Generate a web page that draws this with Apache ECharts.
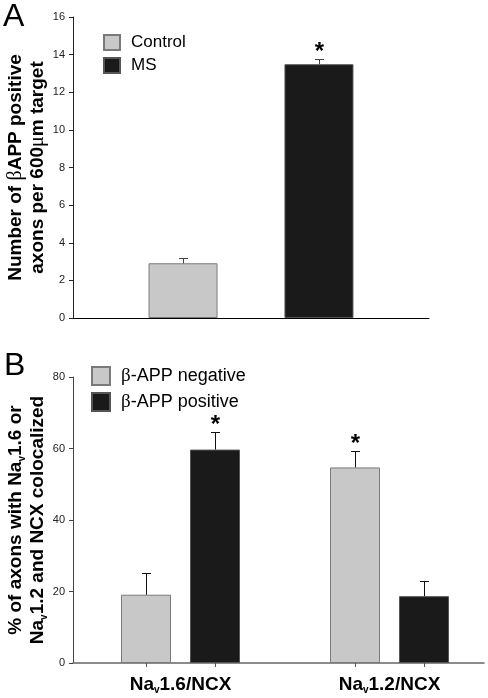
<!DOCTYPE html>
<html><head><meta charset="utf-8">
<script src="https://cdn.jsdelivr.net/npm/echarts@6/dist/echarts.min.js"></script>
<style>html,body{margin:0;padding:0;background:#fff}#c{width:488px;height:698px}</style>
</head><body><div id="c"></div>
<script>
// Panel A data
const catsA = [''];
const namesA = ['Control', 'MS'];
const meanA = [2.91, 13.49];
const semA = [0.27, 0.28];
const sigA = [0, 1];
const ticksA = [0, 2, 4, 6, 8, 10, 12, 14, 16];
// Panel B data
const catsB = ['Na{v|v}1.6/NCX', 'Na{v|v}1.2/NCX'];
const namesB = ['β-APP negative', 'β-APP positive'];
const negMean = [19.1, 54.7];
const negSem = [6.1, 4.7];
const negSig = [0, 1];
const posMean = [59.7, 18.7];
const posSem = [4.9, 4.2];
const posSig = [1, 0];
const ticksB = [0, 20, 40, 60, 80];

const FONT = 'Liberation Sans, Arial, sans-serif';
const SERIF = 'Liberation Serif, DejaVu Serif, serif';
const LIGHT = '#c8c8c8', DARK = '#1a1a1a';

function errSeries(xi, yi, data, bw, gap, n, color, ticks) {
  return {
    type: 'custom', xAxisIndex: xi, yAxisIndex: yi, data: data, silent: true, z: 5, clip: false,
    renderItem: function (params, api) {
      const c = api.value(0), i = api.value(1), m = api.value(2), s = api.value(3), sig = api.value(4);
      const base = api.coord([c, 0]);
      const total = n * bw + (n - 1) * gap;
      const x = Math.round(base[0] - total / 2 + i * (bw + gap) + bw / 2) + 0.5;
      const yM = api.coord([c, m])[1];
      const yT = Math.round(api.coord([c, m + s])[1]) + 0.5;
      const st = { stroke: color, lineWidth: 1 };
      const ch = [
        { type: 'line', shape: { x1: x, y1: yM, x2: x, y2: yT }, style: st },
        { type: 'line', shape: { x1: x - 4.5, y1: yT, x2: x + 4.5, y2: yT }, style: st }
      ];
      if (sig) ch.push({ type: 'text', x: x, y: yT - 7, style: { text: '*', font: 'bold 24px ' + FONT, fill: '#000', align: 'center', verticalAlign: 'middle' } });
      if (ticks) ch.push({ type: 'line', shape: { x1: x, y1: base[1], x2: x, y2: base[1] + 4 }, style: { stroke: '#555', lineWidth: 1 } });
      return { type: 'group', children: ch };
    }
  };
}

const errA = meanA.map((m, i) => [0, i, m, semA[i], sigA[i]]);
const errB = [];
for (let c = 0; c < 2; c++) {
  errB.push([c, 0, negMean[c], negSem[c], negSig[c]]);
  errB.push([c, 1, posMean[c], posSem[c], posSig[c]]);
}

const subRich = {
  b: { fontSize: 19, fontWeight: 'bold', fontFamily: FONT, color: '#000', lineHeight: 22 },
  s: { fontSize: 20, fontFamily: SERIF, color: '#000', lineHeight: 22 },
  v: { fontSize: 10, fontWeight: 'bold', fontFamily: FONT, color: '#000', lineHeight: 18, verticalAlign: 'bottom' }
};

const gridBase = { containLabel: false, outerBoundsMode: 'none' };

const chart = echarts.init(document.getElementById('c'), null, { renderer: 'canvas' });
chart.setOption({
  animation: false,
  backgroundColor: '#fff',
  graphic: [
    { type: 'text', left: 3, top: 1, style: { text: 'A', font: '32px ' + FONT, fill: '#000' } },
    { type: 'text', left: 4, top: 350, style: { text: 'B', font: '32px ' + FONT, fill: '#000' } }
  ],
  legend: [
    { data: namesA, orient: 'vertical', left: 103, top: 34, padding: 0, icon: 'rect', itemWidth: 16, itemHeight: 15, itemGap: 6,
      textStyle: { fontSize: 17, fontFamily: FONT, color: '#000', padding: [0, 0, 0, 6] } },
    { data: namesB, orient: 'vertical', left: 91, top: 366, padding: 0, icon: 'rect', itemWidth: 18, itemHeight: 18, itemGap: 6,
      formatter: n => n.replace('β', '{s|β}'),
      textStyle: { fontSize: 18, fontFamily: FONT, color: '#000', padding: [0, 0, 0, 6],
        rich: { s: { fontSize: 19, fontFamily: SERIF, color: '#000' } } } }
  ],
  grid: [
    Object.assign({ left: 73, right: 59, top: 17, bottom: 380 }, gridBase),
    Object.assign({ left: 73, right: 4, top: 377, bottom: 35 }, gridBase),
    Object.assign({ left: 76, right: -6, top: 377, bottom: 35 }, gridBase)
  ],
  xAxis: [
    { type: 'category', gridIndex: 0, data: catsA, axisLine: { lineStyle: { color: '#000', width: 1 } }, axisTick: { show: false }, axisLabel: { show: false } },
    { type: 'category', gridIndex: 1, data: catsB, axisLine: { lineStyle: { color: '#666', width: 1.5 } }, axisTick: { show: false }, axisLabel: { show: false } },
    { type: 'category', gridIndex: 2, data: catsB, axisLine: { show: false }, axisTick: { show: false },
      axisLabel: { margin: 12, fontSize: 19, fontWeight: 'bold', fontFamily: FONT, color: '#000',
        rich: { v: { fontSize: 10, fontWeight: 'bold', fontFamily: FONT, color: '#000', lineHeight: 20, verticalAlign: 'bottom' } } } }
  ],
  yAxis: [
    { type: 'value', gridIndex: 0, min: 0, max: 16, interval: 2, splitLine: { show: false },
      axisLine: { show: true, lineStyle: { color: '#222' } }, axisTick: { show: true, length: 4, lineStyle: { color: '#222' } },
      axisLabel: { margin: 8, fontSize: 11, fontFamily: FONT, color: '#222' },
      name: '{b|Number of }{s|β}{b|APP positive}\n{b|axons per 600}{s|μ}{b|m target}',
      nameMoveOverlap: false,
      nameLocation: 'middle', nameRotate: 90, nameGap: 24, nameTextStyle: { rich: subRich } },
    { type: 'value', gridIndex: 1, min: 0, max: 80, interval: 20, splitLine: { show: false },
      axisLine: { show: true, lineStyle: { color: '#444' } }, axisTick: { show: true, length: 4, lineStyle: { color: '#444' } },
      axisLabel: { margin: 8, fontSize: 11, fontFamily: FONT, color: '#222' },
      name: '{b|% of axons with Na}{v|v}{b|1.6 or}\n{b|Na}{v|v}{b|1.2 and NCX colocalized}',
      nameMoveOverlap: false,
      nameLocation: 'middle', nameRotate: 90, nameGap: 24, nameTextStyle: { rich: subRich } },
    { type: 'value', gridIndex: 2, min: 0, max: 80, show: false, splitLine: { show: false } }
  ],
  series: [
    { type: 'bar', name: namesA[0], xAxisIndex: 0, yAxisIndex: 0, data: [meanA[0]], barWidth: 69, barGap: '97%',
      itemStyle: { color: LIGHT, borderColor: '#7a7a7a', borderWidth: 1 } },
    { type: 'bar', name: namesA[1], xAxisIndex: 0, yAxisIndex: 0, data: [meanA[1]], barWidth: 69, barGap: '97%',
      itemStyle: { color: DARK, borderColor: '#555', borderWidth: 1 } },
    errSeries(0, 0, errA, 69, 67, 2, '#444', false),
    { type: 'bar', name: namesB[0], xAxisIndex: 2, yAxisIndex: 2, data: negMean, barWidth: 50, barGap: '38%',
      itemStyle: { color: LIGHT, borderColor: '#7a7a7a', borderWidth: 1 } },
    { type: 'bar', name: namesB[1], xAxisIndex: 2, yAxisIndex: 2, data: posMean, barWidth: 50, barGap: '38%',
      itemStyle: { color: DARK, borderColor: '#555', borderWidth: 1 } },
    errSeries(2, 2, errB, 50, 19, 2, '#111', true)
  ]
});
</script></body></html>
